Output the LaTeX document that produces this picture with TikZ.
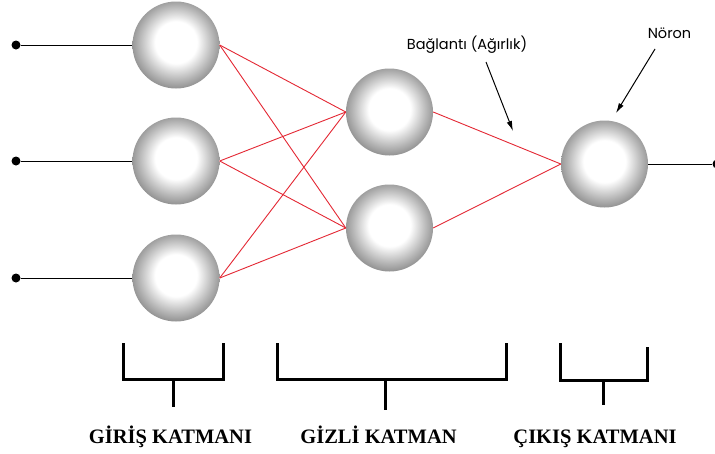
\documentclass[tikz,border=0pt]{standalone}
\usepackage{fontspec}
\setmainfont{Liberation Serif}
\newfontfamily\notefont{Poppins}
\usetikzlibrary{arrows.meta}

% grey ball with a soft white highlight (circle rim sits at about 35bp)
\pgfdeclareradialshading{neuronball}{\pgfpoint{0bp}{2bp}}{%
  color(0bp)=(white); color(12bp)=(white); color(21bp)=(black!28);
  color(27bp)=(black!46); color(31bp)=(black!60); color(34bp)=(black!74);
  color(36bp)=(black!80); color(50bp)=(black!80)}

\tikzset{
  neuron/.style={circle, minimum size=87pt, inner sep=0pt, shading=neuronball},
  inwire/.style={line width=1pt, black},
  weight/.style={line width=0.9pt, draw={rgb,255:red,228;green,40;blue,52}},
  brace/.style={line width=3pt, black, line cap=butt, line join=miter},
  layername/.style={font=\bfseries\fontsize{20.5}{24}\selectfont, anchor=base, inner sep=0pt},
  note/.style={font=\notefont\fontsize{14.5}{16}\selectfont, inner sep=0pt},
  pointer/.style={line width=1pt, -{Latex[length=10pt,width=5.5pt]}},
  dot/.style={circle, fill=black, minimum size=9pt, inner sep=0pt}
}

\begin{document}
\begin{tikzpicture}[x=1pt, y=-1pt]
\useasboundingbox[fill=white] (0,0) rectangle (715,453);

% input layer
\node[neuron] (i1) at (176,45) {};
\node[neuron] (i2) at (176,161) {};
\node[neuron] (i3) at (176,278) {};
% hidden layer
\node[neuron] (h1) at (389.5,112) {};
\node[neuron] (h2) at (389.5,228) {};
% output layer
\node[neuron] (o1) at (604.5,164) {};

% input terminals
\node[dot] (d1) at (16,45) {};
\node[dot] (d2) at (16,161) {};
\node[dot] (d3) at (16,278) {};
\node[dot] (d4) at (717,164) {};
\draw[inwire] (d1) -- (i1.west);
\draw[inwire] (d2) -- (i2.west);
\draw[inwire] (d3) -- (i3.west);
\draw[inwire] (o1.east) -- (d4);

% weighted connections
\foreach \a in {i1,i2,i3}
  \foreach \b in {h1,h2}
    \draw[weight] (\a.east) -- (\b.west);
\draw[weight] (h1.east) -- (o1.west);
\draw[weight] (h2.east) -- (o1.west);

% annotations
\node[note] (wlabel) at (467,45) {Bağlantı (Ağırlık)};
\node[note] (nlabel) at (669.5,33) {Nöron};
\coordinate (wstart) at (486,62);
\coordinate (wtip) at (513,131);
\coordinate (nstart) at (655,49);
\coordinate (ntip) at (616,113);
\draw[pointer] (wstart) -- (wtip);
\draw[pointer] (nstart) -- (ntip);

% layer brackets
\draw[brace] (123,343) -- (123,379) -- (223,379) -- (223,343);
\draw[brace] (173,379) -- (173,407);
\draw[brace] (277,343) -- (277,379) -- (506,379) -- (506,343);
\draw[brace] (385,379) -- (385,410);
\draw[brace] (560,343) -- (560,380) -- (647,380) -- (647,347);
\draw[brace] (603,380) -- (603,405);

% layer names
\node[layername] (lin) at (170.5,443) {GİRİŞ KATMANI};
\node[layername] (lhid) at (378.5,443) {GİZLİ KATMAN};
\node[layername] (lout) at (595,443) {ÇIKIŞ KATMANI};
\end{tikzpicture}
\end{document}
